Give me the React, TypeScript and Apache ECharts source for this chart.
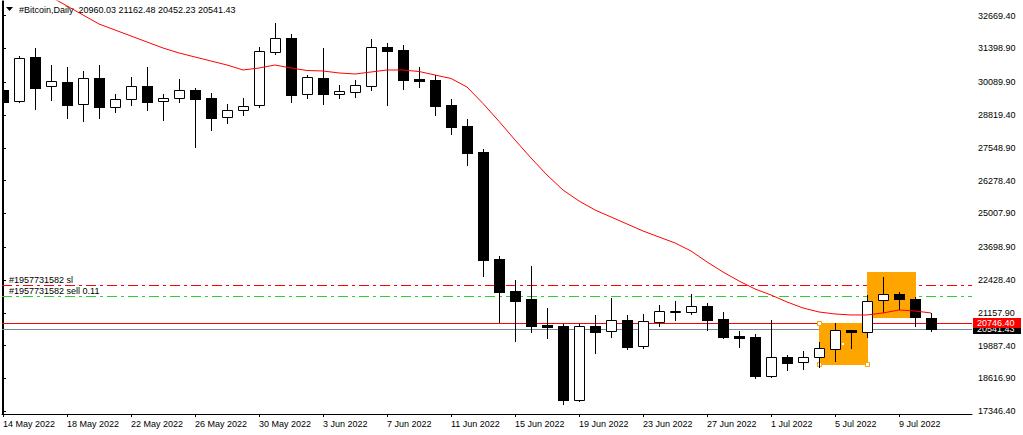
import React, { useEffect, useRef } from "react";
import * as echarts from "echarts";

const FONT = "Liberation Sans";

// bar index 0 = 14 May 2022, one bar per day
const tickIdx = [0, 4, 8, 12, 16, 20, 24, 28, 32, 36, 40, 44, 48, 52, 56];
const tickLabels = [
  "14 May 2022", "18 May 2022", "22 May 2022", "26 May 2022", "30 May 2022",
  "3 Jun 2022", "7 Jun 2022", "11 Jun 2022", "15 Jun 2022", "19 Jun 2022",
  "23 Jun 2022", "27 Jun 2022", "1 Jul 2022", "5 Jul 2022", "9 Jul 2022",
];
const yTicks = [
  32669.4, 31398.9, 30089.9, 28819.4, 27548.9, 26278.4, 25007.9,
  23698.9, 22428.4, 21157.9, 19887.4, 18616.9, 17346.4,
];

const opens = [
  29790, 29352, 31068, 29934, 30100, 29236, 30255, 29143, 29430, 29945,
  29352, 29469, 29790, 29480, 28733, 29004, 29198, 31274, 31793, 29624,
  30255, 29647, 29724, 29957, 31444, 31339, 30228, 30178, 29209, 28396,
  27389, 23245, 22005, 21696, 20689, 20650, 17796, 20650, 20445, 20882,
  19864, 20817, 21219, 21204, 21425, 20921, 20251, 20224, 18725, 19449,
  19256, 19438, 19771, 20495, 20406, 21645, 21901, 21696, 20960.03,
];
const highs = [
  30112, 31107, 31417, 30758, 30681, 30526, 30758, 29635, 30294, 30681,
  29635, 30216, 29856, 29674, 29248, 29469, 31456, 32385, 31959, 30371,
  31417, 29984, 30178, 31765, 31611, 31533, 30681, 30371, 29442, 28667,
  27494, 23361, 22432, 22974, 21359, 20728, 20728, 21076, 21734, 21076,
  21115, 21463, 21618, 21889, 21541, 21192, 20456, 20340, 20882, 19527,
  19693, 20042, 20755, 20495, 21851, 22536, 21978, 21785, 21162.48,
];
const lows = [
  28601, 29340, 29066, 29403, 28718, 28601, 28718, 28950, 29221, 29027,
  28640, 29337, 27594, 28253, 28524, 28834, 29143, 31196, 29337, 29492,
  29260, 29469, 29531, 29790, 29209, 29840, 29906, 28822, 28086, 26886,
  22598, 20817, 20081, 20429, 20197, 17618, 17757, 19616, 20236, 19759,
  19810, 20662, 20882, 21126, 20495, 20197, 19848, 18648, 18686, 18958,
  18985, 19074, 19306, 19786, 20236, 21181, 21308, 20662, 20452.23,
];
const closes = [
  29337, 31018, 29880, 30127, 29221, 30243, 29143, 29430, 29934, 29337,
  29469, 29779, 29453, 28718, 29016, 29159, 31289, 31793, 29608, 30282,
  29647, 29752, 29972, 31444, 31312, 30189, 30150, 29182, 28369, 27362,
  23218, 21978, 21630, 20662, 20623, 17796, 20650, 20429, 20871, 19848,
  20832, 21231, 21231, 21413, 20894, 20236, 20197, 18725, 19438, 19229,
  19438, 19786, 20483, 20406, 21607, 21901, 21684, 20987, 20541.43,
];
const maValues = [
  34438, 34050, 33702, 33392, 33044, 32695, 32346, 32114, 31881, 31649,
  31417, 31223, 31068, 30913, 30758, 30565, 30642, 30758, 30642, 30545,
  30526, 30449, 30410, 30487, 30565, 30565, 30506, 30371, 30235, 29906,
  29267, 28576, 27854, 27156, 26498, 25917, 25491, 25143, 24872, 24600,
  24329, 24097, 23865, 23555, 23129, 22741, 22393, 22083, 21851, 21580,
  21347, 21192, 21115, 21076, 21076, 21154, 21270, 21231, 21154,
];

// drawn rectangles: [startBar, priceTop, endBar, priceBottom]
const rects = [
  [51, 20778, 54, 19166],
  [54, 22741, 57, 20998],
];

// horizontal levels: stop loss, order, red price line, bid
const levelPrices = [22249, 21800, 20746.4, 20541.43];
const levelLabels = ["#1957731582 sl", "#1957731582 sell 0.11", "", ""];
const levelColors = ["#ff0000", "#32cd32", "#ff0000", "#778899"];
const levelDashed = [true, true, false, false];

// price tags on the right scale (drawn in order, last on top)
const tagPrices = [20541.43, 20746.4];
const tagColors = ["#000000", "#ff0000"];

export default function App() {
  const ref = useRef<HTMLDivElement>(null);
  useEffect(() => {
    document.body.style.margin = "0";
    const chart = echarts.init(ref.current!, null, { renderer: "svg" });
    const n = closes.length;
    const candleData = opens.map((o, i) => [i, o, highs[i], lows[i], closes[i]]);
    const maData = maValues.map((v, i) => [i, v]);
    const yMin = 17241;
    const yMax = 33237;
    const title = `#Bitcoin,Daily  ${opens[n - 1].toFixed(2)} ${highs[n - 1].toFixed(2)} ${lows[n - 1].toFixed(2)} ${closes[n - 1].toFixed(2)}`;

    chart.setOption({
      animation: false,
      backgroundColor: "#ffffff",
      textStyle: { fontFamily: FONT },
      grid: { left: 2, right: 51, top: 1, bottom: 21, show: false },
      graphic: [
        { type: "polygon", shape: { points: [[6, 7], [13, 7], [9.5, 11]] }, style: { fill: "#000" }, z: 0 },
        {
          type: "text", left: 19, top: 5, z: 0,
          style: { text: title, fill: "#000", fontSize: 9, fontFamily: FONT },
        },
      ],
      xAxis: {
        type: "value",
        min: -1 / 16,
        max: -1 / 16 + 970 / 16,
        splitLine: { show: false },
        axisLine: { show: true, lineStyle: { color: "#000", width: 1 } },
        axisTick: { show: true, customValues: tickIdx, length: 3, lineStyle: { color: "#000" } },
        axisLabel: {
          customValues: tickIdx,
          formatter: (v: number) => tickLabels[tickIdx.indexOf(Math.round(v))] ?? "",
          align: "left",
          margin: 5,
          color: "#000",
          fontSize: 9,
          fontFamily: FONT,
        },
      },
      yAxis: [
        {
          type: "value",
          position: "right",
          min: yMin,
          max: yMax,
          splitLine: { show: false },
          axisLine: { show: true, lineStyle: { color: "#000", width: 1 } },
          axisTick: { show: true, customValues: yTicks, length: 3, lineStyle: { color: "#000" } },
          axisLabel: {
            customValues: yTicks,
            formatter: (v: number) => v.toFixed(2),
            margin: 6,
            color: "#000",
            fontSize: 9,
            fontFamily: FONT,
          },
        },
        {
          type: "value",
          position: "left",
          min: yMin,
          max: yMax,
          splitLine: { show: false },
          axisLine: { show: true, lineStyle: { color: "#000", width: 1 } },
          axisTick: { show: false },
          axisLabel: { show: false },
        },
      ],
      series: [
        {
          type: "custom",
          name: "levels",
          z: 1,
          clip: true,
          data: levelPrices.map((p, k) => [k, p]),
          encode: { x: -1, y: 1 },
          renderItem: (params: any, api: any) => {
            const k = api.value(0);
            const p = api.value(1);
            const cs = params.coordSys;
            const y = Math.round(api.coord([0, p])[1]) + 0.5;
            const children: any[] = [
              {
                type: "line",
                shape: { x1: cs.x, y1: y, x2: cs.x + cs.width, y2: y },
                style: {
                  stroke: levelColors[k],
                  lineWidth: 1,
                  lineDash: levelDashed[k] ? [10, 4, 3, 4] : null,
                },
              },
            ];
            if (levelLabels[k]) {
              children.push({
                type: "text",
                x: cs.x + 7,
                y: y - 1,
                style: {
                  text: levelLabels[k],
                  fill: "#000",
                  fontSize: 9,
                  fontFamily: FONT,
                  verticalAlign: "bottom",
                },
              });
            }
            return { type: "group", children };
          },
        },
        {
          type: "custom",
          name: "rectangles",
          z: 2,
          clip: true,
          data: rects,
          renderItem: (params: any, api: any) => {
            const a = api.coord([api.value(0), api.value(1)]);
            const b = api.coord([api.value(2), api.value(3)]);
            const x1 = Math.round(a[0]);
            const y1 = Math.round(a[1]);
            const x2 = Math.round(b[0]);
            const y2 = Math.round(b[1]);
            const children: any[] = [
              { type: "rect", shape: { x: x1, y: y1, width: x2 - x1 + 1, height: y2 - y1 + 1 }, style: { fill: "#ffa500" } },
            ];
            if (params.dataIndex === 0) {
              const h = (x: number, y: number) => ({
                type: "rect",
                shape: { x: x - 1.5, y: y - 1.5, width: 4, height: 4 },
                style: { fill: "#fff", stroke: "#ffa500", lineWidth: 1 },
              });
              children.push(h(x1, y1), h(x1, y2), h(x2, y2));
              children.push({
                type: "rect",
                shape: { x: Math.round((x1 + x2) / 2) - 1, y: Math.round((y1 + y2) / 2) - 1, width: 2, height: 2 },
                style: { fill: "#fff" },
              });
            }
            return { type: "group", children };
          },
        },
        {
          type: "custom",
          name: "candles",
          z: 3,
          clip: true,
          data: candleData,
          encode: { x: 0, y: [1, 2, 3, 4] },
          renderItem: (params: any, api: any) => {
            const i = api.value(0);
            const o = api.value(1);
            const h = api.value(2);
            const l = api.value(3);
            const c = api.value(4);
            const px = Math.round(api.coord([i, o])[0]);
            const yo = Math.round(api.coord([i, o])[1]);
            const yc = Math.round(api.coord([i, c])[1]);
            const yh = Math.round(api.coord([i, h])[1]);
            const yl = Math.round(api.coord([i, l])[1]);
            const top = Math.min(yo, yc);
            const bot = Math.max(yo, yc);
            const bull = c >= o;
            const wick = {
              type: "line",
              shape: { x1: px + 0.5, y1: yh, x2: px + 0.5, y2: yl + 1 },
              style: { stroke: "#000", lineWidth: 1 },
            };
            const body = bull
              ? {
                  type: "rect",
                  shape: { x: px - 4.5, y: top + 0.5, width: 10, height: Math.max(bot - top, 1) },
                  style: { fill: "#fff", stroke: "#000", lineWidth: 1 },
                }
              : {
                  type: "rect",
                  shape: { x: px - 5, y: top, width: 11, height: Math.max(bot - top + 1, 2) },
                  style: { fill: "#000" },
                };
            return { type: "group", children: [wick, body] };
          },
        },
        {
          type: "line",
          name: "MA",
          z: 4,
          data: maData,
          showSymbol: false,
          symbol: "none",
          clip: true,
          lineStyle: { color: "#ff0000", width: 1 },
        },
        {
          type: "custom",
          name: "tags",
          z: 5,
          clip: false,
          data: tagPrices.map((p, k) => [k, p]),
          encode: { x: -1, y: 1 },
          renderItem: (params: any, api: any) => {
            const k = api.value(0);
            const p = api.value(1);
            const cs = params.coordSys;
            const y = Math.round(api.coord([0, p])[1]);
            const x = cs.x + cs.width + 1;
            return {
              type: "group",
              children: [
                { type: "rect", shape: { x, y: y - 5, width: 48, height: 10 }, style: { fill: tagColors[k] } },
                {
                  type: "text",
                  x: x + 4,
                  y: y,
                  style: {
                    text: p.toFixed(2),
                    fill: "#fff",
                    fontSize: 9,
                    fontFamily: FONT,
                    verticalAlign: "middle",
                  },
                },
              ],
            };
          },
        },
      ],
    });
    return () => chart.dispose();
  }, []);
  return <div ref={ref} style={{ width: 1023, height: 435 }} />;
}
